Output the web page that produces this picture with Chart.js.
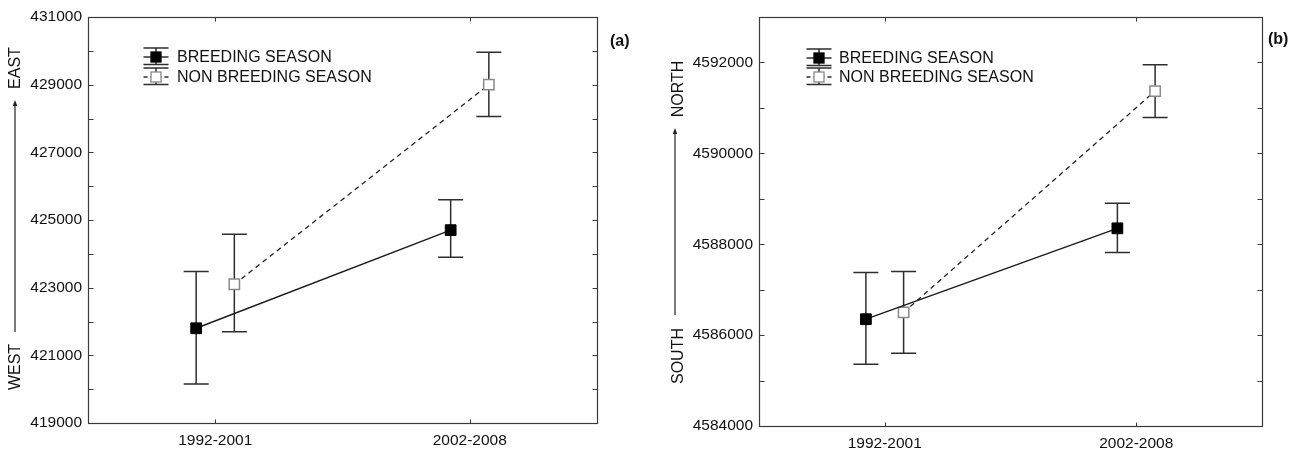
<!DOCTYPE html>
<html><head><meta charset="utf-8">
<script src="https://cdn.jsdelivr.net/npm/chart.js@4.4.1/dist/chart.umd.min.js"></script>
<style>
html,body{margin:0;padding:0;background:#fff;}
#wrap{position:relative;width:1301px;height:450px;background:#fff;}
.panel{position:absolute;top:0;height:450px;}
</style></head><body>
<div id="wrap">
<div class="panel" style="left:0;width:650px"><canvas id="ca"></canvas></div>
<div class="panel" style="left:650px;width:651px"><canvas id="cb"></canvas></div>
</div>
<script>
// ---------- data ----------
const categories = ['1992-2001', '2002-2008'];
const seriesNames = ['BREEDING SEASON', 'NON BREEDING SEASON'];

// panel (a): easting (WEST -> EAST)
const aBreedingMean  = [421800, 424700];
const aBreedingLow   = [420150, 423900];
const aBreedingHigh  = [423480, 425600];
const aNonBreedMean  = [423100, 429000];
const aNonBreedLow   = [421700, 428060];
const aNonBreedHigh  = [424580, 429960];
const aYTicks = [419000, 421000, 423000, 425000, 427000, 429000, 431000];
const aYRange = [419000, 431000];

// panel (b): northing (SOUTH -> NORTH)
const bBreedingMean  = [4586350, 4588350];
const bBreedingLow   = [4585360, 4587820];
const bBreedingHigh  = [4587380, 4588900];
const bNonBreedMean  = [4586500, 4591370];
const bNonBreedLow   = [4585600, 4590790];
const bNonBreedHigh  = [4587400, 4591950];
const bYTicks = [4584000, 4586000, 4588000, 4590000, 4592000];
const bYRange = [4584000, 4593000];

// ---------- styling ----------
const FONT = 'Liberation Sans, Arial, Helvetica, sans-serif';
const FS = 15.5;
const FS_LEG = 16;
const DODGE = 0.075;
const INK = '#111';

const errFrame = {
  id: 'errFrame',
  beforeDatasetsDraw(chart) {
    const ctx = chart.ctx, ys = chart.scales.y;
    ctx.save();
    ctx.strokeStyle = '#2e2e2e';
    ctx.lineWidth = 1.5;
    chart.data.datasets.forEach((ds, di) => {
      const meta = chart.getDatasetMeta(di);
      meta.data.forEach((pt, j) => {
        const x = pt.x;
        const y1 = ys.getPixelForValue(ds.errLow[j]);
        const y2 = ys.getPixelForValue(ds.errHigh[j]);
        ctx.beginPath();
        ctx.moveTo(x, y1); ctx.lineTo(x, y2);
        ctx.moveTo(x - 12.5, y1); ctx.lineTo(x + 12.5, y1);
        ctx.moveTo(x - 12.5, y2); ctx.lineTo(x + 12.5, y2);
        ctx.stroke();
      });
    });
    ctx.restore();
  },
  afterDraw(chart, args, o) {
    const ctx = chart.ctx, a = chart.chartArea, xs = chart.scales.x, ys = chart.scales.y;
    ctx.save();
    // frame
    ctx.strokeStyle = '#3a3a3a';
    ctx.lineWidth = 1.2;
    const L = Math.round(a.left) + 0.5, R = Math.round(a.right) + 0.5,
          T = Math.round(a.top) + 0.5, B = Math.round(a.bottom) + 0.5;
    ctx.strokeRect(L, T, R - L, B - T);
    // inward ticks
    ctx.lineWidth = 1;
    ctx.beginPath();
    for (let v = ys.min + o.minorStep; v < ys.max; v += o.minorStep) {
      const y = Math.round(ys.getPixelForValue(v)) + 0.5;
      ctx.moveTo(L, y); ctx.lineTo(L + 5, y);
      ctx.moveTo(R, y); ctx.lineTo(R - 5, y);
    }
    categories.forEach((c, i) => {
      const x = Math.round(xs.getPixelForValue(i + 1)) + 0.5;
      ctx.moveTo(x, T); ctx.lineTo(x, T + 4);
      ctx.moveTo(x, B); ctx.lineTo(x, B - 4);
    });
    ctx.stroke();

    // legend
    const lg = o.legend;
    chart.data.datasets.forEach((ds, i) => {
      const cx = a.left + lg.symX, cy = lg.rows[i];
      ctx.strokeStyle = '#2e2e2e';
      ctx.lineWidth = 1.5;
      ctx.setLineDash([]);
      ctx.beginPath();
      ctx.moveTo(cx, cy - 9); ctx.lineTo(cx, cy + 7.5);
      ctx.moveTo(cx - 12.5, cy - 9); ctx.lineTo(cx + 12.5, cy - 9);
      ctx.moveTo(cx - 12.5, cy + 7.5); ctx.lineTo(cx + 12.5, cy + 7.5);
      ctx.stroke();
      ctx.beginPath();
      if (ds.borderDash && ds.borderDash.length) ctx.setLineDash([4, 3]);
      ctx.moveTo(cx - 12.5, cy); ctx.lineTo(cx + 12.5, cy);
      ctx.stroke();
      ctx.setLineDash([]);
      ctx.fillStyle = ds.pointBackgroundColor;
      ctx.fillRect(cx - 5, cy - 5, 10, 10);
      ctx.strokeStyle = ds.pointBorderColor;
      ctx.lineWidth = 1.3;
      ctx.strokeRect(cx - 5, cy - 5, 10, 10);
      ctx.fillStyle = INK;
      ctx.font = FS_LEG + 'px ' + FONT;
      ctx.textAlign = 'left';
      ctx.textBaseline = 'middle';
      ctx.fillText(ds.label, a.left + lg.textX, cy + 0.5);
    });

    // axis direction title
    const t = o.dir;
    ctx.fillStyle = INK;
    ctx.font = FS_LEG + 'px ' + FONT;
    ctx.textAlign = 'center';
    ctx.textBaseline = 'middle';
    [[t.low, t.lowY], [t.high, t.highY]].forEach(([txt, y]) => {
      ctx.save();
      ctx.translate(t.textX, y);
      ctx.rotate(-Math.PI / 2);
      ctx.fillText(txt, 0, 0);
      ctx.restore();
    });
    ctx.strokeStyle = '#222';
    ctx.lineWidth = 1.2;
    ctx.beginPath();
    ctx.moveTo(t.lineX, t.lineBottom); ctx.lineTo(t.lineX, t.lineTop + 5);
    ctx.stroke();
    ctx.fillStyle = '#222';
    ctx.beginPath();
    ctx.moveTo(t.lineX, t.lineTop);
    ctx.lineTo(t.lineX - 2.3, t.lineTop + 6);
    ctx.lineTo(t.lineX + 2.3, t.lineTop + 6);
    ctx.closePath();
    ctx.fill();

    // panel tag
    ctx.fillStyle = INK;
    ctx.font = 'bold 16px ' + FONT;
    ctx.textAlign = 'left';
    ctx.fillText(o.tag.text, o.tag.x, o.tag.y);
    ctx.restore();
  }
};

const breedStyle = {
  borderColor: '#1a1a1a', borderWidth: 1.4, pointStyle: 'rect', pointRadius: 7.6,
  pointBackgroundColor: '#000', pointBorderColor: '#000', pointBorderWidth: 1, tension: 0
};
const nonStyle = {
  borderColor: '#222', borderWidth: 1.3, borderDash: [5, 4], pointStyle: 'rect', pointRadius: 7.3,
  pointBackgroundColor: '#fff', pointBorderColor: '#8a8a8a', pointBorderWidth: 1.5, tension: 0
};

function mkDs(label, means, lows, highs, dodge, style) {
  return Object.assign({
    label,
    data: means.map((v, i) => ({ x: i + 1 + dodge, y: v })),
    errLow: lows, errHigh: highs
  }, style);
}

function build(id, o) {
  new Chart(document.getElementById(id), {
    type: 'line',
    data: {
      datasets: [
        mkDs(seriesNames[0], o.bm, o.bl, o.bh, -DODGE, breedStyle),
        mkDs(seriesNames[1], o.nm, o.nl, o.nh, DODGE, nonStyle)
      ]
    },
    options: {
      responsive: true, maintainAspectRatio: false, animation: false,
      layout: { padding: { left: 0, right: o.padRight, top: 17, bottom: 0 } },
      plugins: {
        legend: { display: false }, tooltip: { enabled: false },
        errFrame: { minorStep: 1000, legend: o.legend, dir: o.dir, tag: o.tag }
      },
      scales: {
        x: {
          type: 'linear', min: 0.5, max: 2.5,
          afterBuildTicks: s => { s.ticks = categories.map((c, i) => ({ value: i + 1 })); },
          ticks: { callback: v => categories[v - 1], color: INK, font: { family: FONT, size: FS },
                   padding: 8, maxRotation: 0, autoSkip: false },
          grid: { display: false, drawTicks: false }, border: { display: false },
          afterFit: s => { s.height = o.xH; }
        },
        y: {
          type: 'linear', min: o.range[0], max: o.range[1],
          afterBuildTicks: s => { s.ticks = o.ticks.map(v => ({ value: v })); },
          ticks: { callback: v => String(v), color: INK, font: { family: FONT, size: FS }, padding: 6 },
          grid: { display: false, drawTicks: false }, border: { display: false },
          afterFit: s => { s.width = o.yW; }
        }
      }
    },
    plugins: [errFrame]
  });
}

build('ca', {
  bm: aBreedingMean, bl: aBreedingLow, bh: aBreedingHigh,
  nm: aNonBreedMean, nl: aNonBreedLow, nh: aNonBreedHigh,
  ticks: aYTicks, range: aYRange,
  yW: 88, xH: 27, padRight: 53,
  legend: { symX: 68, textX: 89, rows: [57, 77] },
  dir: { low: 'WEST', high: 'EAST', textX: 16, lowY: 367, highY: 68, lineX: 15, lineTop: 100, lineBottom: 332 },
  tag: { text: '(a)', x: 610, y: 42 }
});
build('cb', {
  bm: bBreedingMean, bl: bBreedingLow, bh: bBreedingHigh,
  nm: bNonBreedMean, nl: bNonBreedLow, nh: bNonBreedHigh,
  ticks: bYTicks, range: bYRange,
  yW: 109, xH: 24, padRight: 39,
  legend: { symX: 60, textX: 80, rows: [58, 77] },
  dir: { low: 'SOUTH', high: 'NORTH', textX: 29, lowY: 356, highY: 89, lineX: 25, lineTop: 128, lineBottom: 315 },
  tag: { text: '(b)', x: 618, y: 40 }
});
</script>
</body></html>
